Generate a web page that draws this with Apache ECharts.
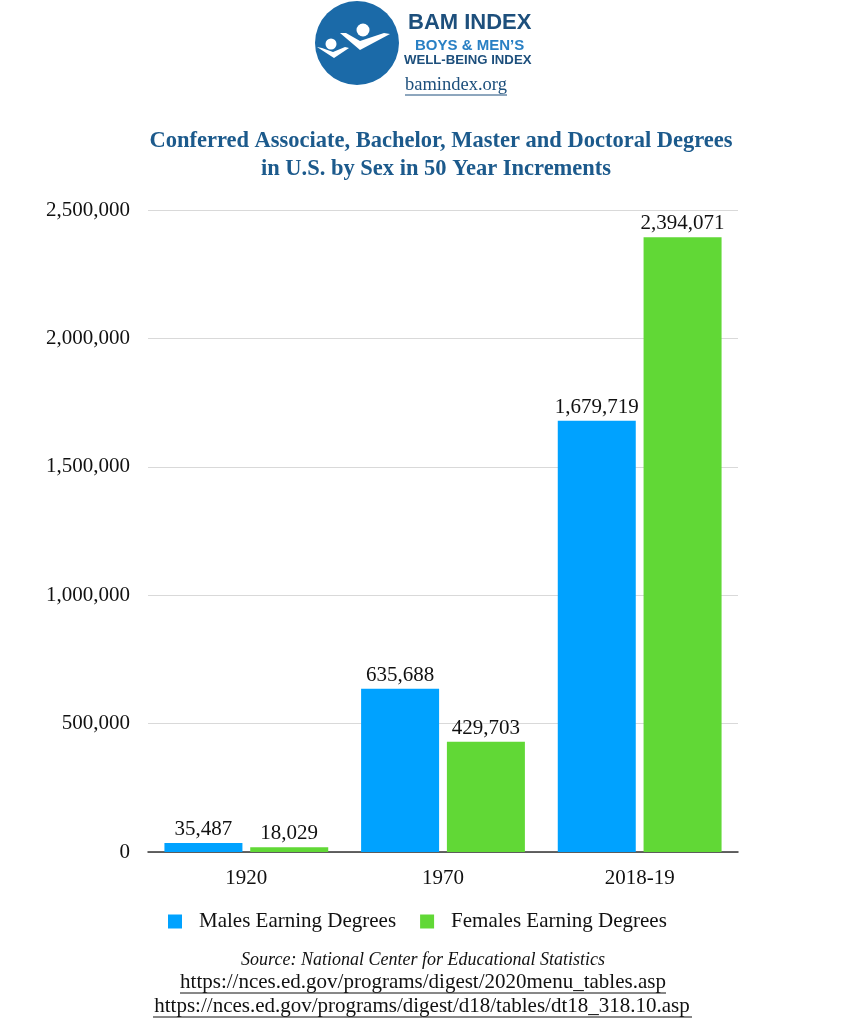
<!DOCTYPE html>
<html>
<head>
<meta charset="utf-8">
<script src="https://cdn.jsdelivr.net/npm/echarts@6/dist/echarts.min.js"></script>
<style>
html,body{margin:0;padding:0;background:#fff;}
#chart{width:856px;height:1024px;}
</style>
</head>
<body>
<div id="chart"></div>
<script>
const categories = ['1920', '1970', '2018-19'];
const maleValues = [35487, 635688, 1679719];
const femaleValues = [18029, 429703, 2394071];
const seriesNames = ['Males Earning Degrees', 'Females Earning Degrees'];
const titleLines = ['Conferred Associate, Bachelor, Master and Doctoral Degrees', 'in U.S. by Sex in 50 Year Increments'];
const sourceLines = ['Source: National Center for Educational Statistics',
  'https://nces.ed.gov/programs/digest/2020menu_tables.asp',
  'https://nces.ed.gov/programs/digest/d18/tables/dt18_318.10.asp'];

const SERIF = '"Liberation Serif", "DejaVu Serif", serif';
const SANS = '"Liberation Sans", Arial, sans-serif';
const chart = echarts.init(document.getElementById('chart'));
const fmt = v => Number(v).toLocaleString('en-US');
const logoBlue = '#1b6aa8';
const darkBlue = '#1d4f7c';

chart.setOption({
  backgroundColor: '#fff',
  animation: false,
  legend: {
    top: 906,
    left: 163,
    icon: 'rect',
    itemWidth: 14,
    itemHeight: 14,
    itemGap: 24,
    textStyle: { fontFamily: SERIF, fontSize: 21, color: '#111', padding: [0, 0, 0, 12] },
    data: seriesNames
  },
  grid: { left: 148, right: 118, top: 210, bottom: 172, containLabel: false },
  xAxis: {
    type: 'category',
    data: categories,
    axisLine: { lineStyle: { color: '#333', width: 1.5 } },
    axisTick: { show: false },
    axisLabel: { fontFamily: SERIF, fontSize: 21, color: '#111', margin: 16 }
  },
  yAxis: {
    type: 'value',
    min: 0,
    max: 2500000,
    interval: 500000,
    axisLine: { show: false },
    axisTick: { show: false },
    splitLine: { lineStyle: { color: '#d9d9d9', width: 1 } },
    axisLabel: { fontFamily: SERIF, fontSize: 21, color: '#111', margin: 18, formatter: fmt }
  },
  series: [
    {
      name: seriesNames[0], type: 'bar', data: maleValues,
      barWidth: 78, barGap: '10%',
      itemStyle: { color: '#00a2ff' },
      label: { show: true, position: 'top', distance: 3, fontFamily: SERIF, fontSize: 21, color: '#111', formatter: p => fmt(p.value) }
    },
    {
      name: seriesNames[1], type: 'bar', data: femaleValues,
      barWidth: 78, barGap: '10%',
      itemStyle: { color: '#61d836' },
      label: { show: true, position: 'top', distance: 3, fontFamily: SERIF, fontSize: 21, color: '#111', formatter: p => fmt(p.value) }
    }
  ],
  graphic: [
    { type: 'circle', shape: { cx: 357, cy: 43, r: 42 }, style: { fill: logoBlue } },
    { type: 'circle', shape: { cx: 331, cy: 44, r: 5.5 }, style: { fill: '#fff' } },
    { type: 'polygon', shape: { points: [[317, 47], [322, 48], [333, 52], [345, 47], [349, 48], [334, 58]] }, style: { fill: '#fff' } },
    { type: 'circle', shape: { cx: 363, cy: 30, r: 6.5 }, style: { fill: '#fff' } },
    { type: 'polygon', shape: { points: [[340, 33], [346, 33], [360, 41], [384, 33], [390, 34], [360, 50]] }, style: { fill: '#fff' } },
    { type: 'text', left: 408, top: 12, style: { text: 'BAM INDEX', fontFamily: SANS, fontWeight: 'bold', fontSize: 22, fill: darkBlue } },
    { type: 'text', left: 415, top: 38, style: { text: 'BOYS & MEN\u2019S', fontFamily: SANS, fontWeight: 'bold', fontSize: 15, fill: '#2a80c4' } },
    { type: 'text', left: 404, top: 54, style: { text: 'WELL-BEING INDEX', fontFamily: SANS, fontWeight: 'bold', fontSize: 13.2, fill: darkBlue } },
    { type: 'text', left: 405, top: 76, style: { text: 'bamindex.org', fontFamily: SERIF, fontSize: 18.5, fill: darkBlue } },
    { type: 'line', shape: { x1: 405, y1: 95, x2: 507, y2: 95 }, style: { stroke: darkBlue, lineWidth: 1 } },
    { type: 'text', style: { x: 441, y: 141, text: titleLines[0], textAlign: 'center', textVerticalAlign: 'middle', fontFamily: SERIF, fontWeight: 'bold', fontSize: 22.5, fill: '#1c5a8c' } },
    { type: 'text', style: { x: 436, y: 169, text: titleLines[1], textAlign: 'center', textVerticalAlign: 'middle', fontFamily: SERIF, fontWeight: 'bold', fontSize: 22.5, fill: '#1c5a8c' } },
    { type: 'text', style: { x: 423, y: 960, text: sourceLines[0], textAlign: 'center', textVerticalAlign: 'middle', fontFamily: SERIF, fontStyle: 'italic', fontSize: 18, fill: '#111' } },
    { type: 'text', style: { x: 423, y: 982, text: sourceLines[1], textAlign: 'center', textVerticalAlign: 'middle', fontFamily: SERIF, fontSize: 21, fill: '#111' } },
    { type: 'line', shape: { x1: 180, y1: 993, x2: 666, y2: 993 }, style: { stroke: '#111', lineWidth: 1 } },
    { type: 'text', style: { x: 422, y: 1006, text: sourceLines[2], textAlign: 'center', textVerticalAlign: 'middle', fontFamily: SERIF, fontSize: 21, fill: '#111' } },
    { type: 'line', shape: { x1: 153, y1: 1017, x2: 692, y2: 1017 }, style: { stroke: '#111', lineWidth: 1 } }
  ]
});
</script>
</body>
</html>
